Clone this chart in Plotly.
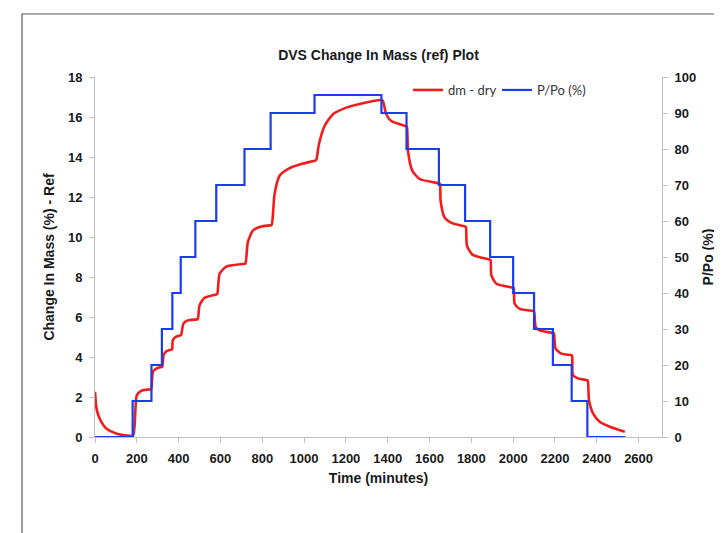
import plotly.graph_objects as go

# P/Po step program (time in minutes, % RH)
ppo_time = [0, 180, 270, 320, 370, 410, 480, 580, 715, 840, 1050, 1370, 1490,
            1645, 1770, 1890, 2000, 2100, 2190, 2280, 2355, 2537]
ppo_value = [0, 10, 20, 30, 40, 50, 60, 70, 80, 90, 95, 90, 80,
             70, 60, 50, 40, 30, 20, 10, 0, 0]

# dm - dry (change in mass %)
dm_time = [0, 6, 13, 30, 54, 101, 173, 182, 189, 194, 200, 221, 261,
           269, 277, 293, 317, 322, 328, 341, 365, 369, 372, 385, 408,
           412, 423, 444, 487, 492, 500, 524, 580, 585, 596, 628, 715,
           720, 731, 755, 795, 838, 845, 859, 883, 931, 994, 1050,
           1058, 1071, 1098, 1138, 1202, 1281, 1369, 1377, 1393, 1417,
           1457, 1486, 1492, 1497, 1518, 1553, 1645, 1650, 1653, 1672,
           1712, 1769, 1774, 1779, 1805, 1888, 1892, 1896, 1920, 1999,
           2003, 2007, 2031, 2095, 2100, 2108, 2127, 2190, 2195, 2203,
           2231, 2278, 2282, 2286, 2310, 2353, 2357, 2363, 2382, 2414,
           2462, 2534]
dm_value = [2.26, 1.51, 1.18, 0.76, 0.43, 0.18, 0.06, 0.06, 0.51, 1.51, 2.09, 2.31, 2.38,
            2.40, 3.26, 3.42, 3.50, 3.52, 4.09, 4.29, 4.37, 4.38, 4.84, 5.00, 5.08,
            5.10, 5.67, 5.83, 5.88, 5.90, 6.58, 6.96, 7.13, 7.15, 8.16, 8.52, 8.66,
            8.68, 9.74, 10.32, 10.53, 10.58, 10.60, 12.15, 13.06, 13.44, 13.67, 13.81,
            13.85, 14.64, 15.55, 16.14, 16.47, 16.69, 16.85, 16.80, 16.14, 15.80,
            15.64, 15.55, 15.50, 14.31, 13.31, 12.90, 12.68, 12.66, 11.81, 10.98,
            10.68, 10.53, 10.50, 9.57, 9.12, 8.87, 8.85, 8.08, 7.66, 7.46,
            7.44, 6.67, 6.41, 6.30, 6.28, 5.50, 5.33, 5.20, 5.18, 4.42,
            4.17, 4.09, 4.07, 3.09, 2.93, 2.84, 2.82, 1.84, 1.18, 0.76,
            0.51, 0.26]

FONT = "Liberation Sans, Arial, sans-serif"
AXIS_GRAY = "#bfbfbf"
RED = "#f21c1c"
BLUE = "#1c3cf0"

# the page body adds an 8px offset, so the figure is sized to fit the window
W, H = 714, 525
PL, PR, PT, PB = 87, 60, 69, 96          # plot area: window x 95..662, y 77..437
PW, PH = W - PL - PR, H - PT - PB         # 567 x 360

def px_x(wx):
    return (wx - 95) / PW

def px_y(wy):
    return (437 - wy) / PH

fig = go.Figure()
fig.add_trace(go.Scatter(x=dm_time, y=dm_value, mode="lines", name="dm - dry",
                         line=dict(color=RED, width=2.6, shape="spline", smoothing=0.6),
                         yaxis="y"))
fig.add_trace(go.Scatter(x=ppo_time, y=ppo_value, mode="lines", name="P/Po (%)",
                         line=dict(color=BLUE, width=2.2, shape="hv"),
                         yaxis="y2"))

tickfont = dict(family=FONT, size=13, color="#1a1a1a", weight="bold")
titlefont = dict(family=FONT, size=14, color="#1a1a1a", weight="bold")

fig.update_layout(
    width=W, height=H,
    margin=dict(l=PL, r=PR, t=PT, b=PB, autoexpand=False),
    paper_bgcolor="white", plot_bgcolor="white",
    title=dict(text="DVS Change In Mass (ref) Plot", x=(378.5 - 8) / W, xanchor="center",
               y=1 - (55 - 8) / H, yanchor="middle",
               font=dict(family=FONT, size=14, color="#1a1a1a", weight="bold")),
    xaxis=dict(range=[0, 2712], dtick=200, tick0=0, showgrid=False, zeroline=False,
               showline=True, linecolor=AXIS_GRAY, linewidth=1,
               ticks="outside", ticklen=5, tickcolor=AXIS_GRAY, tickfont=tickfont,
               ticklabelstandoff=4,
               title=dict(text="Time (minutes)", font=titlefont, standoff=8)),
    yaxis=dict(range=[0, 18], dtick=2, showgrid=False, zeroline=False,
               showline=True, linecolor=AXIS_GRAY, linewidth=1,
               ticks="outside", ticklen=5, tickcolor=AXIS_GRAY, tickfont=tickfont,
               ticklabelstandoff=4,
               title=dict(text="Change In Mass (%) - Ref", font=titlefont, standoff=10)),
    yaxis2=dict(range=[0, 100], dtick=10, overlaying="y", side="right", showgrid=False,
                zeroline=False, showline=True, linecolor=AXIS_GRAY, linewidth=1,
                ticks="outside", ticklen=5, tickcolor=AXIS_GRAY, tickfont=tickfont,
                ticklabelstandoff=4,
                title=dict(text="P/Po (%)", font=titlefont, standoff=7)),
    legend=dict(orientation="h", x=px_x(408), y=px_y(75),
                xanchor="left", yanchor="top", bgcolor="rgba(0,0,0,0)",
                font=dict(family="Lato, Open Sans, sans-serif", size=13, color="#333333"),
                entrywidth=44, entrywidthmode="pixels", tracegroupgap=0),
    showlegend=True,
    shapes=[dict(type="rect", xref="paper", yref="paper",
                 x0=px_x(22), x1=px_x(790),
                 y0=px_y(560), y1=px_y(14),
                 line=dict(color="#595959", width=1.2), fillcolor="rgba(0,0,0,0)",
                 layer="below")],
)

fig.write_html("out.html")
